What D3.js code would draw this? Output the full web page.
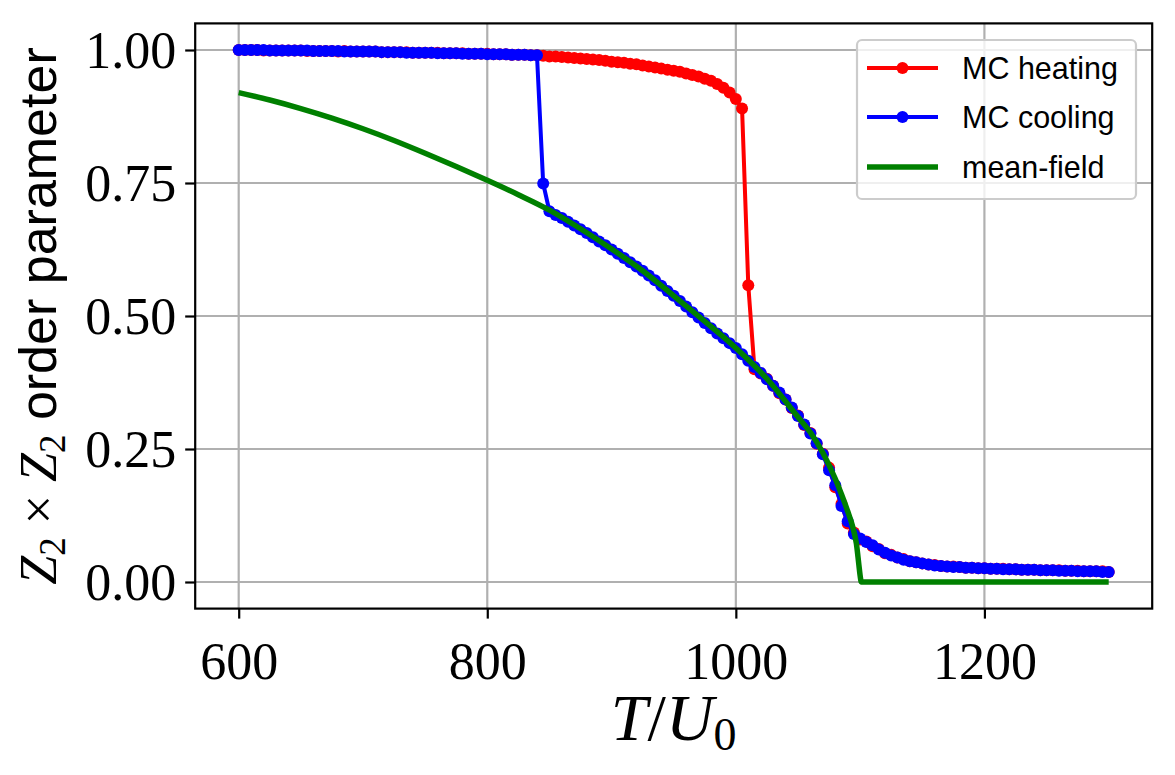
<html>
<head>
<script src="https://d3js.org/d3.v7.min.js"></script>
<style>
  body { margin: 0; background: #fff; }
  .tick text { font-family: "Liberation Serif", "DejaVu Serif", serif; }
</style>
</head>
<body>
<div id="chart"></div>
<script>
// temperatures (T/U0) of the Monte Carlo runs
var temps = [
  600,605,610,615,620,625,630,635,640,645,
  650,655,660,665,670,675,680,685,690,695,
  700,705,710,715,720,725,730,735,740,745,
  750,755,760,765,770,775,780,785,790,795,
  800,805,810,815,820,825,830,835,840,845,
  850,855,860,865,870,875,880,885,890,895,
  900,905,910,915,920,925,930,935,940,945,
  950,955,960,965,970,975,980,985,990,995,
  1000,1005,1010,1015,1020,1025,1030,1035,1040,1045,
  1050,1055,1060,1065,1070,1075,1080,1085,1090,1095,
  1100,1105,1110,1115,1120,1125,1130,1135,1140,1145,
  1150,1155,1160,1165,1170,1175,1180,1185,1190,1195,
  1200,1205,1210,1215,1220,1225,1230,1235,1240,1245,
  1250,1255,1260,1265,1270,1275,1280,1285,1290,1295,
  1300];

var heating = [
  1.000,1.000,1.000,1.000,0.999,0.999,0.999,0.999,0.999,0.999,
  0.999,0.998,0.998,0.998,0.998,0.998,0.997,0.998,0.997,0.997,
  0.997,0.997,0.997,0.996,0.996,0.996,0.996,0.996,0.995,0.995,
  0.995,0.995,0.995,0.994,0.994,0.994,0.994,0.993,0.993,0.993,
  0.993,0.992,0.992,0.992,0.991,0.991,0.991,0.990,0.990,0.989,
  0.988,0.988,0.987,0.986,0.985,0.984,0.983,0.982,0.981,0.980,
  0.978,0.977,0.976,0.974,0.973,0.971,0.969,0.967,0.965,0.963,
  0.961,0.959,0.956,0.953,0.950,0.946,0.942,0.936,0.929,0.920,
  0.908,0.890,0.558,0.400,0.392,0.382,0.369,0.355,0.343,0.327,
  0.313,0.295,0.280,0.260,0.241,0.215,0.178,0.147,0.110,0.093,
  0.080,0.076,0.067,0.062,0.054,0.051,0.046,0.043,0.039,0.037,
  0.035,0.033,0.032,0.030,0.029,0.029,0.028,0.027,0.027,0.026,
  0.026,0.025,0.025,0.025,0.024,0.024,0.023,0.023,0.023,0.022,
  0.022,0.022,0.022,0.021,0.021,0.021,0.020,0.020,0.020,0.020,
  0.019];

var cooling = [
  1.000,1.000,1.000,1.000,1.000,0.999,0.999,0.999,0.999,0.999,
  0.999,0.999,0.998,0.998,0.998,0.998,0.998,0.997,0.997,0.997,
  0.997,0.997,0.997,0.996,0.996,0.996,0.996,0.995,0.995,0.995,
  0.995,0.995,0.994,0.994,0.994,0.994,0.993,0.993,0.993,0.993,
  0.992,0.992,0.992,0.992,0.991,0.991,0.991,0.990,0.990,0.749,
  0.697,0.690,0.684,0.677,0.670,0.663,0.656,0.648,0.640,0.633,
  0.625,0.617,0.609,0.601,0.593,0.585,0.576,0.567,0.557,0.547,
  0.538,0.528,0.518,0.507,0.497,0.487,0.477,0.467,0.458,0.449,
  0.440,0.428,0.416,0.404,0.393,0.381,0.369,0.356,0.343,0.328,
  0.312,0.296,0.279,0.261,0.240,0.210,0.182,0.143,0.114,0.090,
  0.082,0.075,0.069,0.061,0.055,0.050,0.046,0.042,0.039,0.037,
  0.035,0.033,0.031,0.030,0.029,0.028,0.028,0.027,0.027,0.026,
  0.026,0.025,0.025,0.024,0.024,0.024,0.023,0.023,0.023,0.022,
  0.022,0.022,0.021,0.021,0.021,0.020,0.020,0.020,0.020,0.019,
  0.019];

// mean-field curve
var mfT = [600,625,650,675,700,725,750,775,800,825,850,875,900,925,950,975,1000,1025,1050,1060,1070,1080,1085,1090,1094,1097,1099,1100,1101,1300];
var mfM = [0.920,0.906,0.890,0.872,0.852,0.830,0.806,0.781,0.755,0.728,0.699,0.664,0.626,0.585,0.538,0.490,0.440,0.382,0.310,0.281,0.243,0.194,0.165,0.133,0.104,0.072,0.032,0.012,0.000,0.000];

var xTicks = [600, 800, 1000, 1200];
var yTicks = [0, 0.25, 0.5, 0.75, 1.0];
var legendNames = ["MC heating", "MC cooling", "mean-field"];
var colors = ["#ff0000", "#0000ff", "#008000"];

var W = 1175, H = 775;
var margin = {top: 23.4, right: 22.8, bottom: 166.4, left: 195.2};
var width = W - margin.left - margin.right,
    height = H - margin.top - margin.bottom;

var svg = d3.select("#chart").append("svg")
    .attr("width", W).attr("height", H);
var g = svg.append("g")
    .attr("transform", "translate(" + margin.left + "," + margin.top + ")");

var x = d3.scaleLinear().domain([565, 1335]).range([0, width]);
var y = d3.scaleLinear().domain([-0.05, 1.05]).range([height, 0]);

// grid
g.selectAll(".gx").data(xTicks).enter().append("line")
  .attr("x1", d => x(d)).attr("x2", d => x(d))
  .attr("y1", 0).attr("y2", height)
  .attr("stroke", "#b0b0b0").attr("stroke-width", 2.2);
g.selectAll(".gy").data(yTicks).enter().append("line")
  .attr("y1", d => y(d)).attr("y2", d => y(d))
  .attr("x1", 0).attr("x2", width)
  .attr("stroke", "#b0b0b0").attr("stroke-width", 2.2);

// axes
var xAxis = g.append("g").attr("transform", "translate(0," + height + ")")
  .call(d3.axisBottom(x).tickValues(xTicks).tickSize(10).tickFormat(d3.format("d")));
xAxis.select(".domain").remove();
xAxis.selectAll("line").attr("stroke", "#000").attr("stroke-width", 2.2);
xAxis.selectAll("text").attr("y", 70).attr("dy", 0)
  .style("font-size", "52px").attr("fill", "#000");

var yAxis = g.append("g")
  .call(d3.axisLeft(y).tickValues(yTicks).tickSize(10).tickFormat(d3.format(".2f")));
yAxis.select(".domain").remove();
yAxis.selectAll("line").attr("stroke", "#000").attr("stroke-width", 2.2);
yAxis.selectAll("text").attr("x", -19).attr("dy", "0.33em")
  .style("font-size", "52px").attr("fill", "#000");

// data
var heatData = temps.map((t, i) => [t, heating[i]]);
var coolData = temps.map((t, i) => [t, cooling[i]]);
var mfData = mfT.map((t, i) => [t, mfM[i]]);

var line = d3.line().x(d => x(d[0])).y(d => y(d[1]));

[heatData, coolData].forEach(function(data, k) {
  g.append("path").datum(data)
    .attr("d", line).attr("fill", "none")
    .attr("stroke", colors[k]).attr("stroke-width", 4)
    .attr("stroke-linejoin", "round");
  g.selectAll(".pt" + k).data(data).enter().append("circle")
    .attr("cx", d => x(d[0])).attr("cy", d => y(d[1]))
    .attr("r", 6).attr("fill", colors[k]);
});

g.append("path").datum(mfData)
  .attr("d", d3.line().curve(d3.curveMonotoneX).x(d => x(d[0])).y(d => y(d[1])))
  .attr("fill", "none").attr("stroke", colors[2]).attr("stroke-width", 5.5)
  .attr("stroke-linejoin", "round");

// frame
g.append("rect").attr("width", width).attr("height", height)
  .attr("fill", "none").attr("stroke", "#000").attr("stroke-width", 2.2);

// legend
var leg = svg.append("g");
leg.append("rect")
  .attr("x", 857).attr("y", 40).attr("width", 279).attr("height", 159)
  .attr("rx", 5).attr("fill", "#fff").attr("fill-opacity", 0.8)
  .attr("stroke", "#cccccc").attr("stroke-width", 2.2);
var rowY = [68, 117, 167];
legendNames.forEach(function(name, i) {
  leg.append("line").attr("x1", 867).attr("x2", 938)
    .attr("y1", rowY[i]).attr("y2", rowY[i])
    .attr("stroke", colors[i]).attr("stroke-width", i == 2 ? 5.5 : 4);
  if (i < 2) {
    leg.append("circle").attr("cx", 902.5).attr("cy", rowY[i]).attr("r", 6)
      .attr("fill", colors[i]);
  }
  leg.append("text").attr("x", 962).attr("y", rowY[i] + 11)
    .style("font-family", "'Liberation Sans', Arial, sans-serif")
    .style("font-size", "30.5px").text(name);
});

// axis labels
var xl = svg.append("text")
  .attr("x", margin.left + width / 2).attr("y", 740)
  .attr("text-anchor", "middle")
  .style("font-family", "'Liberation Serif', serif").style("font-size", "66px");
xl.append("tspan").style("font-style", "italic").text("T");
xl.append("tspan").text("/");
xl.append("tspan").style("font-style", "italic").text("U");
xl.append("tspan").attr("dy", 10).style("font-size", "46px").text("0");

var yl = svg.append("text")
  .attr("transform", "translate(56," + (margin.top + height / 2) + ") rotate(-90)")
  .attr("text-anchor", "middle")
  .style("font-size", "52px");
yl.append("tspan").style("font-family", "'Liberation Serif', serif").style("font-style", "italic").text("Z");
yl.append("tspan").attr("dy", 9).style("font-family", "'Liberation Serif', serif").style("font-size", "37px").text("2");
yl.append("tspan").attr("dy", -9).style("font-family", "'Liberation Serif', serif").text(" \u00d7 ");
yl.append("tspan").style("font-family", "'Liberation Serif', serif").style("font-style", "italic").text("Z");
yl.append("tspan").attr("dy", 9).style("font-family", "'Liberation Serif', serif").style("font-size", "37px").text("2");
yl.append("tspan").attr("dy", -9).style("font-family", "'Liberation Sans', Arial, sans-serif").text(" order parameter");
</script>
</body>
</html>
